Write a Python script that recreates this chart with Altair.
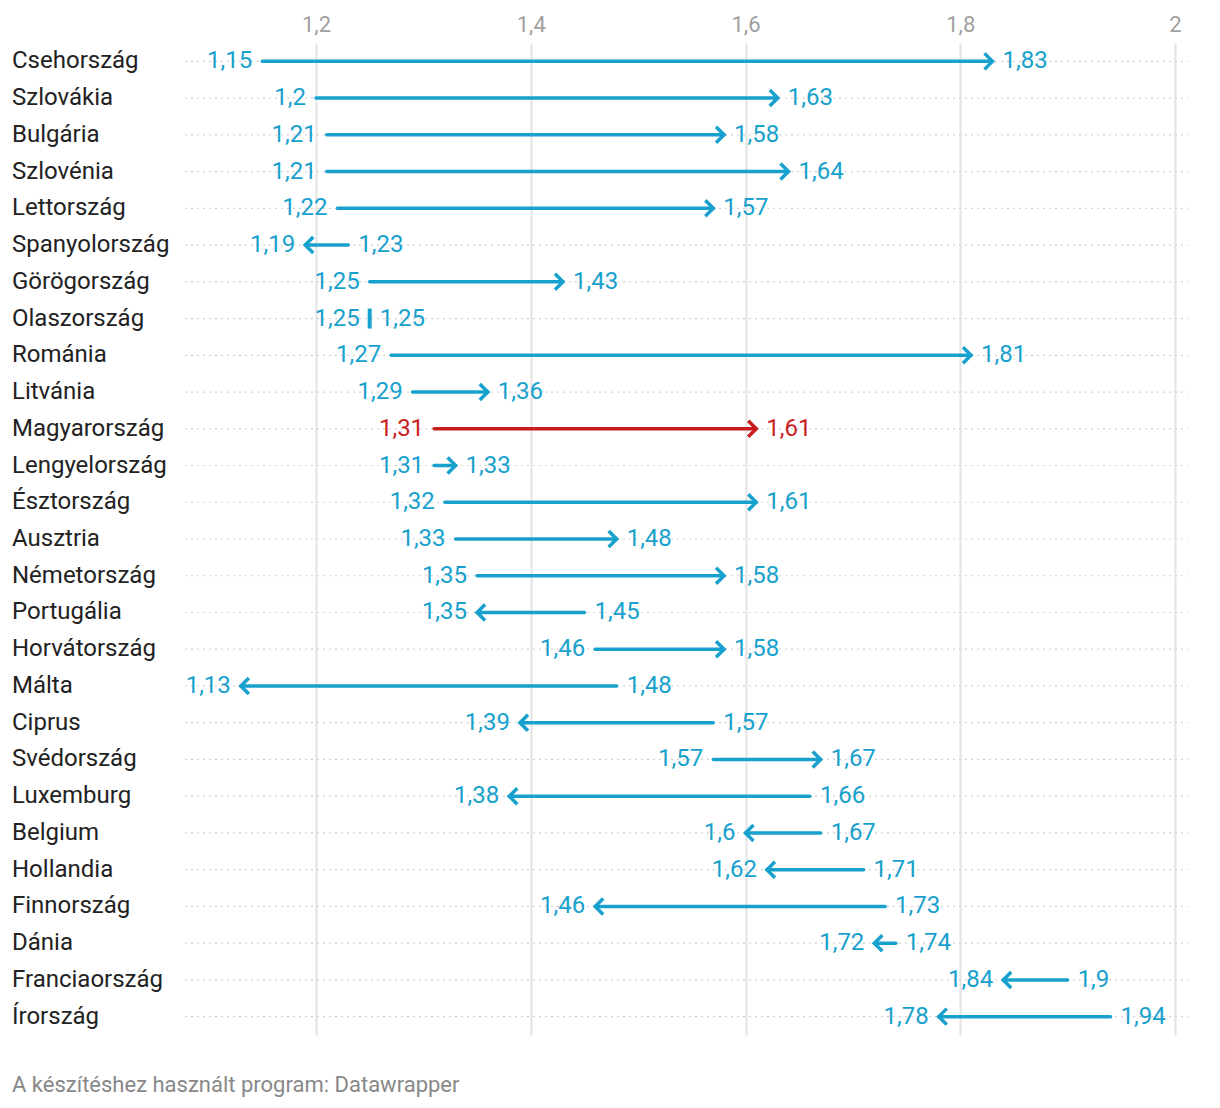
import altair as alt
import pandas as pd

countries = ["Csehország", "Szlovákia", "Bulgária", "Szlovénia", "Lettország",
             "Spanyolország", "Görögország", "Olaszország", "Románia", "Litvánia",
             "Magyarország", "Lengyelország", "Észtország", "Ausztria", "Németország",
             "Portugália", "Horvátország", "Málta", "Ciprus", "Svédország",
             "Luxemburg", "Belgium", "Hollandia", "Finnország", "Dánia",
             "Franciaország", "Írország"]
start_vals = [1.15, 1.2, 1.21, 1.21, 1.22, 1.23, 1.25, 1.25, 1.27, 1.29,
              1.31, 1.31, 1.32, 1.33, 1.35, 1.45, 1.46, 1.48, 1.57, 1.57,
              1.66, 1.67, 1.71, 1.73, 1.74, 1.9, 1.94]
end_vals = [1.83, 1.63, 1.58, 1.64, 1.57, 1.19, 1.43, 1.25, 1.81, 1.36,
            1.61, 1.33, 1.61, 1.48, 1.58, 1.35, 1.58, 1.13, 1.39, 1.67,
            1.38, 1.6, 1.62, 1.46, 1.72, 1.84, 1.78]
highlight = "Magyarország"
tick_values = [1.2, 1.4, 1.6, 1.8, 2.0]
footer = "A készítéshez használt program: Datawrapper"

BLUE = "#18a1cd"
RED = "#c71e1d"
FONT = "Roboto"

def fmt(v):
    return str(v).replace(".", ",")

df = pd.DataFrame({"country": countries, "start": start_vals, "end": end_vals})
df["lo"] = df[["start", "end"]].min(axis=1)
df["hi"] = df[["start", "end"]].max(axis=1)
df["lo_lab"] = [fmt(min(s, e)) for s, e in zip(start_vals, end_vals)]
df["hi_lab"] = [fmt(max(s, e)) for s, e in zip(start_vals, end_vals)]
df["ang"] = [0 if e >= s else 180 for s, e in zip(start_vals, end_vals)]
df["col"] = [RED if c == highlight else BLUE for c in countries]

W = 1003
H = 992
DOMAIN = [1.078, 2.0121]

xscale = alt.Scale(domain=DOMAIN, nice=False, zero=False)
xaxis = alt.Axis(orient="top", values=tick_values, grid=True, gridColor="#e4e4e4",
                 gridWidth=2, domain=False, ticks=False, labelColor="#a0a0a0",
                 labelFontSize=22, labelFont=FONT, labelPadding=12,
                 labelBaseline="alphabetic", title=None,
                 labelExpr="replace(format(datum.value, '~g'), '.', ',')")

def X(field):
    return alt.X(f"{field}:Q", scale=xscale, axis=xaxis)

Y = alt.Y("country:N", scale=alt.Scale(type="point", domain=countries, padding=0.5), axis=None)
COL = alt.Color("col:N", scale=None, legend=None)

base = alt.Chart(df)

dots = base.mark_rule(strokeDash=[2, 4], color="#d2d2d2", strokeWidth=1.2).encode(
    x=alt.value(0), x2=alt.value(W), y=Y)

grid_holder = base.mark_point(opacity=0).encode(x=X("start"), y=Y)

shafts = base.transform_filter("datum.start != datum.end").mark_rule(
    strokeWidth=3.5, strokeCap="round").encode(x=X("start"), x2="end:Q", y=Y, color=COL)

chevron = base.transform_filter("datum.start != datum.end").mark_point(
    shape="M -1 -1 L 0 0 L -1 1", filled=False, size=256, strokeWidth=3.5,
    opacity=1, strokeJoin="miter").encode(
    x=X("end"), y=Y, color=COL, angle=alt.Angle("ang:Q", scale=None))

bar = base.transform_filter("datum.start == datum.end").mark_tick(
    thickness=4, size=20, orient="vertical", opacity=1).encode(x=X("start"), y=Y, color=COL)

left_lab = base.mark_text(align="right", baseline="middle", dx=-10, fontSize=24,
                          font=FONT).encode(x=X("lo"), y=Y, text="lo_lab:N", color=COL)
right_lab = base.mark_text(align="left", baseline="middle", dx=10, fontSize=24,
                           font=FONT).encode(x=X("hi"), y=Y, text="hi_lab:N", color=COL)

names = base.mark_text(align="left", baseline="middle", fontSize=24, font=FONT,
                       color="#222222").encode(x=alt.value(-173), y=Y, text="country:N")

foot = alt.Chart(pd.DataFrame({"t": [footer]})).mark_text(
    align="left", baseline="middle", fontSize=22, font=FONT, color="#888888").encode(
    x=alt.value(-173), y=alt.value(1042), text="t:N")

chart = alt.layer(dots, grid_holder, shafts, chevron, bar, left_lab, right_lab, names, foot).properties(
    width=W, height=H,
    background="white",
    autosize=alt.AutoSizeParams(type="none"),
    padding={"left": 185, "top": 43, "right": 32, "bottom": 73},
).configure_view(strokeWidth=0, strokeOpacity=0)

chart.save("out.html", embed_options={"renderer": "svg", "actions": False})
